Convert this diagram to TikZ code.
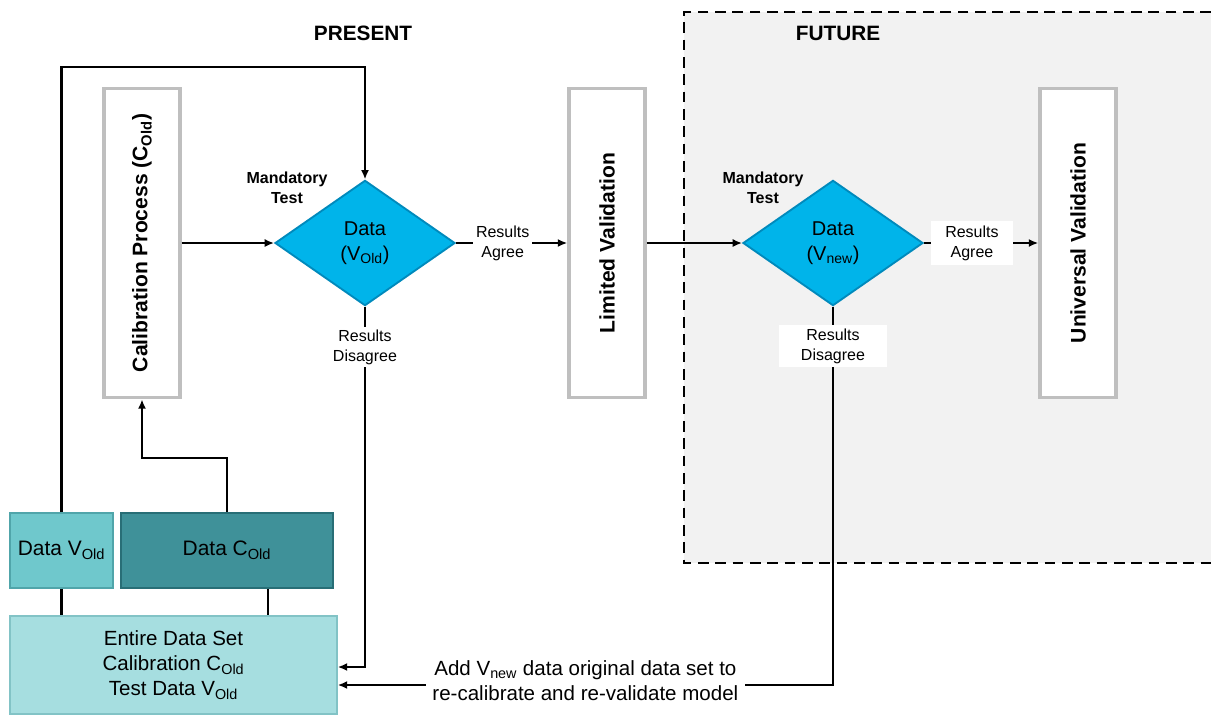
\documentclass[tikz,border=0pt]{standalone}
\usepackage{fontspec}
\setmainfont{Liberation Sans}
\usetikzlibrary{shapes.geometric,arrows.meta}
\definecolor{dcyan}{RGB}{0,180,234}
\definecolor{dcyanedge}{RGB}{0,138,188}
\definecolor{tealA}{RGB}{111,200,204}
\definecolor{tealAedge}{RGB}{80,165,170}
\definecolor{tealB}{RGB}{63,145,153}
\definecolor{tealBedge}{RGB}{40,110,118}
\definecolor{tealC}{RGB}{166,222,224}
\definecolor{tealCedge}{RGB}{130,195,198}
\definecolor{futbg}{RGB}{242,242,242}
\begin{document}
\begin{tikzpicture}[x=0.75pt,y=-0.75pt,
  conn/.style={line width=1.9pt, draw=black},
  arr/.style={conn, -{Latex[length=7pt,width=6pt]}},
  vbox/.style={rectangle, rotate=90, fill=white, draw=gray!50, line width=2.6pt,
    minimum width=232pt, minimum height=57pt, inner sep=0pt,
    font=\bfseries\fontsize{15.8}{19}\selectfont},
  dmd/.style={diamond, fill=dcyan, draw=dcyanedge, line width=1.4pt,
    minimum width=135pt, minimum height=94pt, inner sep=0pt, align=center,
    font=\fontsize{15}{18.75}\selectfont},
  lbl/.style={align=center, font=\fontsize{12}{15}\selectfont, fill=white, inner sep=2pt},
  mand/.style={align=center, font=\bfseries\fontsize{12}{15}\selectfont},
  head/.style={font=\bfseries\fontsize{15.6}{18}\selectfont},
  tbox/.style={rectangle, line width=1.4pt, inner sep=0pt, align=center},
  dashline/.style={line width=2.1pt, dash pattern=on 8pt off 5pt}
]
\useasboundingbox (0,0) rectangle (1211,715);
\fill[white] (0,0) rectangle (1211,715);
% future region
\fill[futbg] (684,12) rectangle (1211,563);
\draw[dashline] (1211,12) -- (684,12) -- (684,563) -- (1211,563);

% helper coordinates
\coordinate (topy) at (0,67);
\coordinate (caly) at (0,458);
\coordinate (dis1y) at (0,667);
\coordinate (addy) at (0,685);
\coordinate (cx) at (268,0);

% headings
\node[head] (present) at (363,33) {PRESENT};
\node[head] (future) at (838,33) {FUTURE};

% vertical boxes
\node[vbox] (cal) at (142,243) {Calibration Process (C\textsubscript{Old})};
\node[vbox] (lv) at (607,243) {Limited Validation};
\node[vbox] (uv) at (1078,243) {Universal Validation};

% diamonds
\node[dmd] (d1) at (365,243) {Data\\(V\textsubscript{Old})};
\node[dmd] (d2) at (833,243) {Data\\(V\textsubscript{new})};
\node[mand] (m1) at (287,188) {Mandatory\\Test};
\node[mand] (m2) at (763,188) {Mandatory\\Test};

% disagree labels
\node[lbl] (dis1) at (365,347) {Results\\Disagree};
\node[lbl, minimum width=81pt, minimum height=31.5pt] (dis2) at (833,346) {Results\\Disagree};

% data boxes
\node[tbox, fill=tealA, draw=tealAedge, minimum width=77pt, minimum height=56pt,
  font=\fontsize{15.7}{18}\selectfont] (dv) at (61.5,550.5) {Data V\textsubscript{Old}};
\node[tbox, fill=tealB, draw=tealBedge, minimum width=159pt, minimum height=56pt,
  font=\fontsize{15.7}{18}\selectfont] (dc) at (227,550.5) {Data C\textsubscript{Old}};
\node[tbox, fill=tealC, draw=tealCedge, minimum width=245pt, minimum height=73pt,
  font=\fontsize{15.4}{18.75}\selectfont] (ent) at (173.5,665) {Entire Data Set\\Calibration C\textsubscript{Old}\\Test Data V\textsubscript{Old}};

% connectors
\draw[arr] (cal.south) -- (d1.west);
\draw[arr] (dc.north) -- (dc.north |- caly) -| (cal.west);
\draw[arr] (dv.north) -- (dv.north |- topy) -| (d1.north);
\draw[conn] (dv.south) -- (dv.south |- ent.north);
\draw[conn] (dc.south -| cx) -- (cx |- ent.north);
\draw[conn] (d1.south) -- (dis1.north);
\draw[arr] (dis1.south) -- (dis1.south |- dis1y) -- (ent.east |- dis1y);
\draw[arr] (d1.east) -- node[lbl, pos=0.42] (ag1) {Results\\Agree} (lv.north);
\draw[arr] (lv.south) -- (d2.west);
\draw[arr] (d2.east) -- node[lbl, pos=0.42, minimum width=61.5pt, minimum height=33pt] (ag2) {Results\\Agree} (uv.north);
\draw[conn] (d2.south) -- (dis2.north);
\draw[arr] (dis2.south) -- (dis2.south |- addy) -- node[fill=white, inner sep=5pt, pos=0.5, yshift=3pt, align=center,
  font=\fontsize{15.4}{18.75}\selectfont] (addtxt) {Add V\textsubscript{new} data original data set to\\re-calibrate and re-validate model} (ent.east |- addy);
\end{tikzpicture}
\end{document}
